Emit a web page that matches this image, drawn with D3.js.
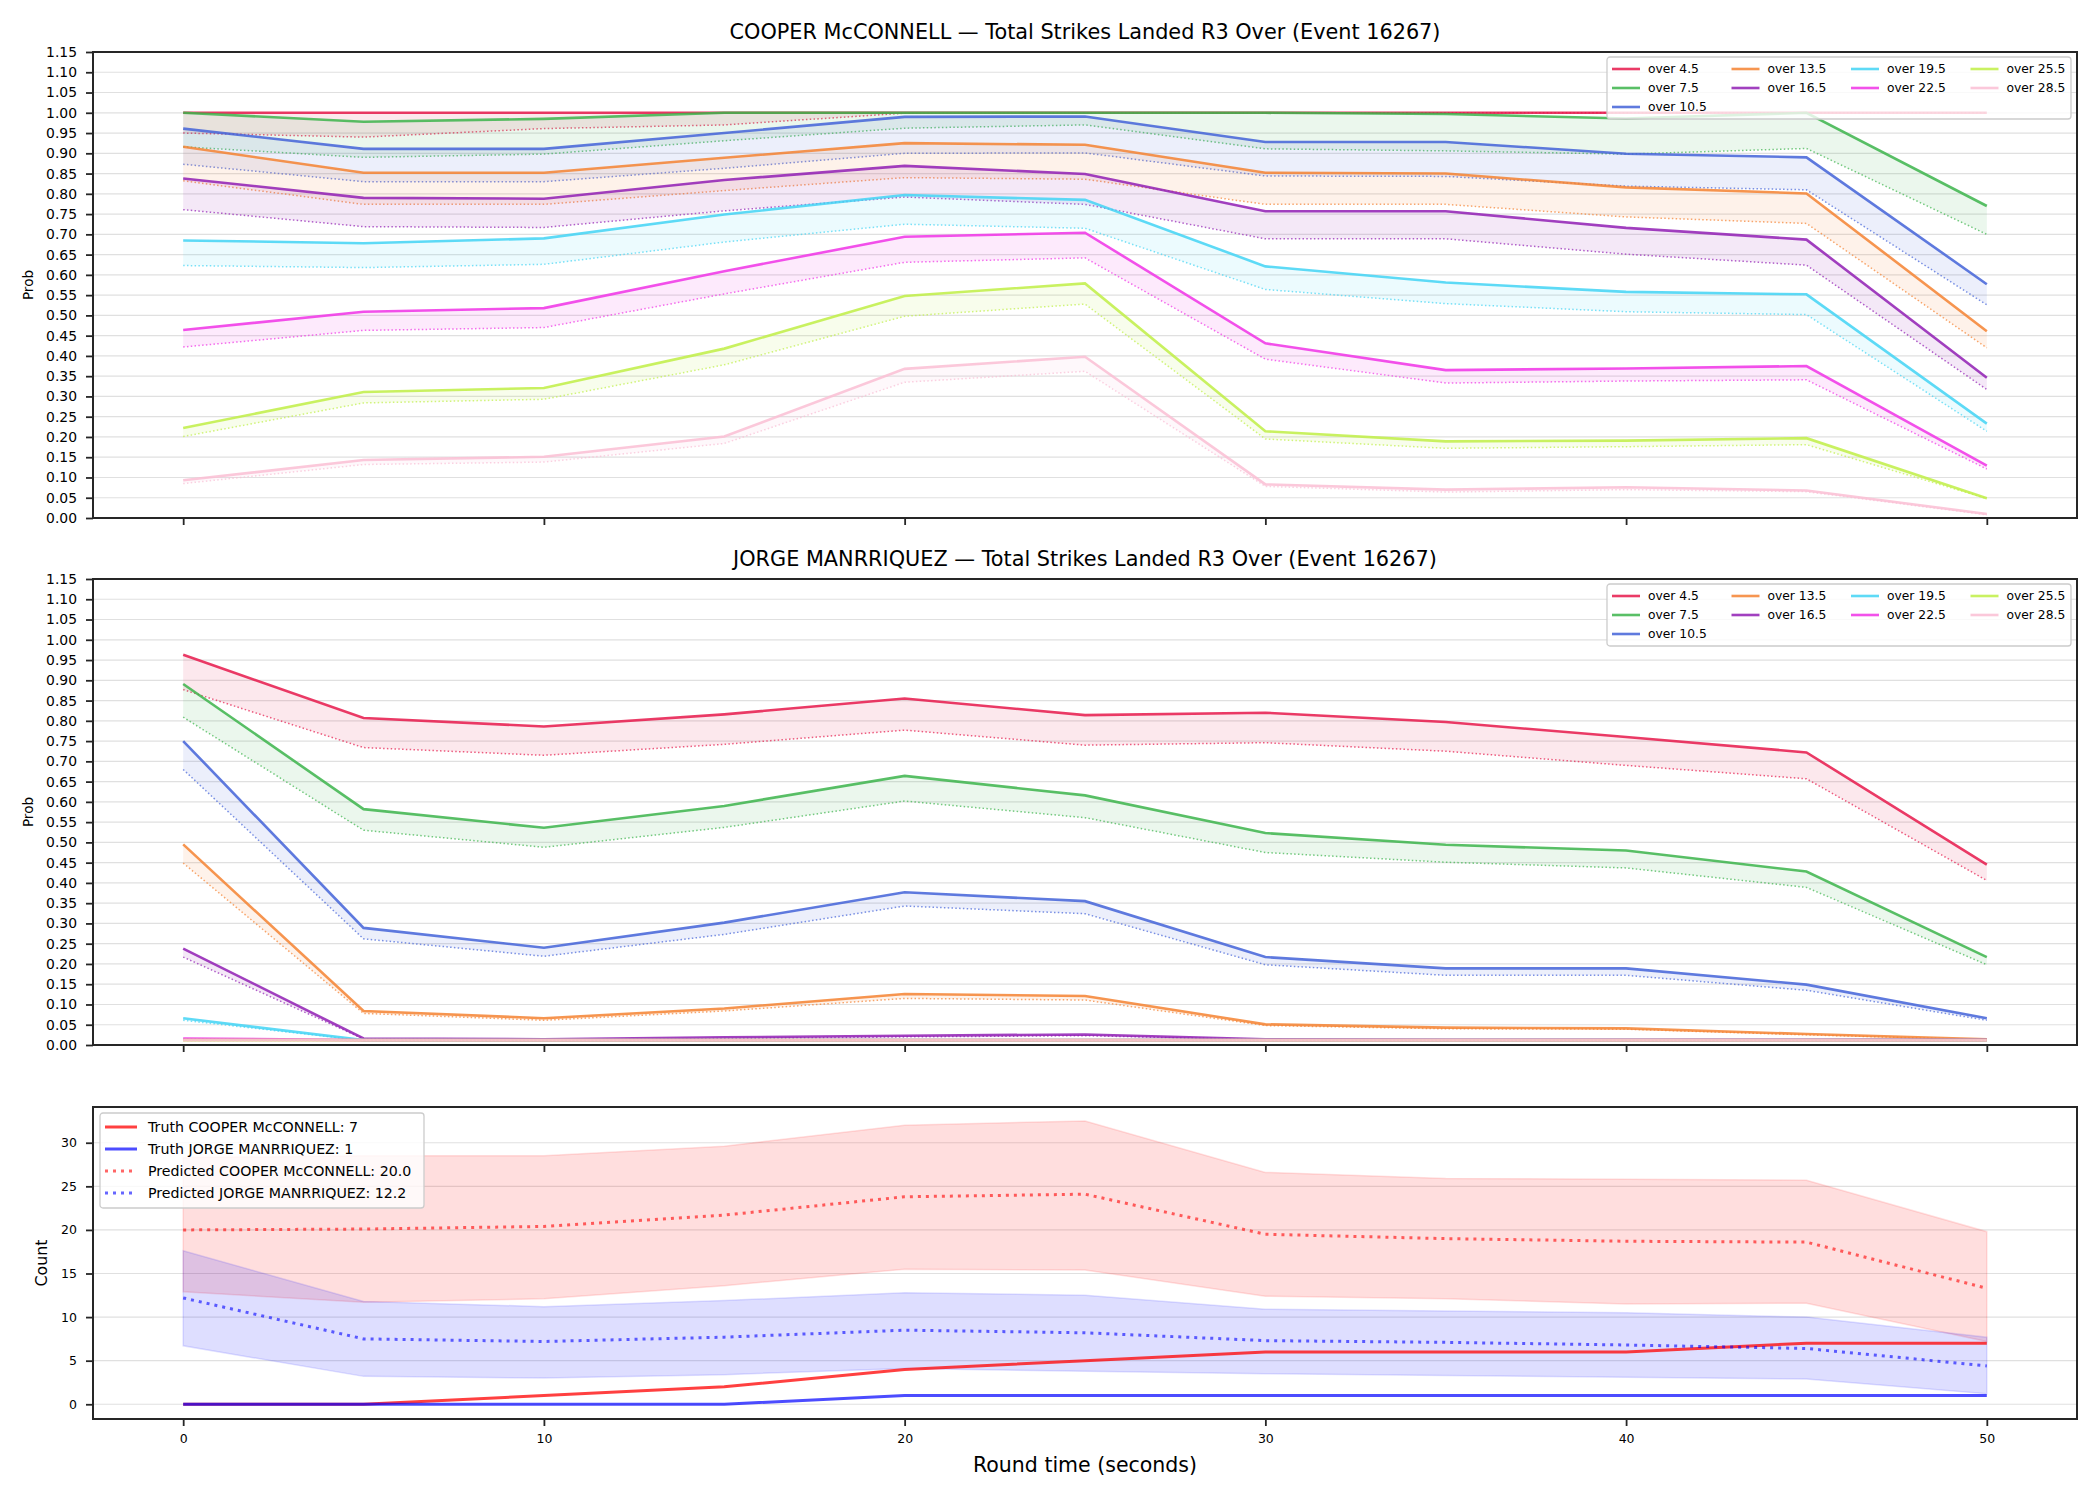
<!DOCTYPE html>
<html>
<head>
<meta charset="utf-8">
<script src="https://cdn.jsdelivr.net/npm/d3@7"></script>
<style>
	body { margin: 0; background: #fff; }
	svg text { font-family: "DejaVu Sans", sans-serif; fill: #000; }
</style>
</head>
<body>
<div id="chart"></div>
<script>

// round time (seconds)
const times = [0, 5, 10, 15, 20, 25, 30, 35, 40, 45, 50];
const lineNames = ["over 4.5", "over 7.5", "over 10.5", "over 13.5", "over 16.5",
	"over 19.5", "over 22.5", "over 25.5", "over 28.5"];

// solid line per threshold (one row per entry of lineNames)
const cooperSolid = [
	[1.000, 1.000, 1.000, 1.000, 1.000, 1.000, 1.000, 1.000, 1.000, 1.000, 1.000],
	[1.000, 0.978, 0.985, 1.000, 1.000, 1.000, 1.000, 0.997, 0.986, 1.000, 0.770],
	[0.961, 0.911, 0.911, 0.950, 0.990, 0.991, 0.928, 0.928, 0.899, 0.890, 0.577],
	[0.916, 0.852, 0.852, 0.889, 0.925, 0.921, 0.852, 0.850, 0.816, 0.801, 0.461],
	[0.838, 0.790, 0.788, 0.834, 0.869, 0.849, 0.757, 0.757, 0.716, 0.687, 0.346],
	[0.685, 0.678, 0.690, 0.749, 0.797, 0.785, 0.621, 0.581, 0.558, 0.552, 0.233],
	[0.464, 0.509, 0.518, 0.609, 0.694, 0.704, 0.431, 0.365, 0.369, 0.375, 0.129],
	[0.222, 0.311, 0.321, 0.418, 0.548, 0.579, 0.214, 0.189, 0.191, 0.197, 0.049],
	[0.093, 0.143, 0.151, 0.201, 0.368, 0.398, 0.083, 0.070, 0.076, 0.068, 0.010]
];

// dotted line per threshold
const cooperDotted = [
	[0.950, 0.940, 0.961, 0.970, 0.999, 1.000, 1.000, 1.000, 1.000, 1.000, 1.000],
	[0.916, 0.890, 0.898, 0.931, 0.962, 0.970, 0.911, 0.906, 0.898, 0.912, 0.700],
	[0.873, 0.830, 0.830, 0.863, 0.900, 0.901, 0.844, 0.843, 0.819, 0.810, 0.526],
	[0.832, 0.774, 0.774, 0.808, 0.840, 0.836, 0.774, 0.774, 0.743, 0.727, 0.420],
	[0.761, 0.719, 0.717, 0.758, 0.792, 0.774, 0.689, 0.689, 0.651, 0.624, 0.317],
	[0.623, 0.618, 0.626, 0.681, 0.725, 0.715, 0.564, 0.529, 0.509, 0.502, 0.214],
	[0.422, 0.463, 0.470, 0.553, 0.631, 0.642, 0.392, 0.333, 0.338, 0.341, 0.121],
	[0.201, 0.284, 0.293, 0.378, 0.498, 0.528, 0.195, 0.172, 0.176, 0.181, 0.048],
	[0.085, 0.132, 0.138, 0.184, 0.335, 0.362, 0.078, 0.064, 0.070, 0.065, 0.008]
];

const jorgeSolid = [
	[0.963, 0.807, 0.786, 0.816, 0.855, 0.814, 0.820, 0.797, 0.760, 0.722, 0.445],
	[0.891, 0.582, 0.536, 0.590, 0.664, 0.616, 0.523, 0.494, 0.480, 0.428, 0.217],
	[0.750, 0.289, 0.240, 0.302, 0.377, 0.355, 0.217, 0.189, 0.189, 0.149, 0.066],
	[0.495, 0.084, 0.066, 0.090, 0.126, 0.121, 0.051, 0.043, 0.041, 0.027, 0.014],
	[0.238, 0.016, 0.014, 0.019, 0.023, 0.026, 0.014, 0.013, 0.013, 0.013, 0.013],
	[0.066, 0.012, 0.012, 0.012, 0.012, 0.012, 0.012, 0.012, 0.012, 0.012, 0.012],
	[0.016, 0.012, 0.012, 0.012, 0.012, 0.012, 0.012, 0.012, 0.012, 0.012, 0.012],
	[0.012, 0.012, 0.012, 0.012, 0.012, 0.012, 0.012, 0.012, 0.012, 0.012, 0.012],
	[0.012, 0.012, 0.012, 0.012, 0.012, 0.012, 0.012, 0.012, 0.012, 0.012, 0.012]
];

const jorgeDotted = [
	[0.877, 0.734, 0.715, 0.742, 0.777, 0.740, 0.746, 0.725, 0.690, 0.657, 0.406],
	[0.809, 0.530, 0.488, 0.537, 0.602, 0.561, 0.475, 0.451, 0.437, 0.389, 0.198],
	[0.680, 0.262, 0.219, 0.273, 0.343, 0.324, 0.198, 0.172, 0.172, 0.135, 0.061],
	[0.449, 0.078, 0.061, 0.084, 0.115, 0.111, 0.048, 0.040, 0.039, 0.025, 0.013],
	[0.217, 0.015, 0.012, 0.016, 0.020, 0.023, 0.013, 0.012, 0.012, 0.012, 0.012],
	[0.061, 0.011, 0.011, 0.011, 0.011, 0.011, 0.011, 0.011, 0.011, 0.011, 0.011],
	[0.015, 0.011, 0.011, 0.011, 0.011, 0.011, 0.011, 0.011, 0.011, 0.011, 0.011],
	[0.011, 0.011, 0.011, 0.011, 0.011, 0.011, 0.011, 0.011, 0.011, 0.011, 0.011],
	[0.011, 0.011, 0.011, 0.011, 0.011, 0.011, 0.011, 0.011, 0.011, 0.011, 0.011]
];

// count panel
const truthCooper = [0, 0, 1, 2, 4, 5, 6, 6, 6, 7, 7];
const truthJorge = [0, 0, 0, 0, 1, 1, 1, 1, 1, 1, 1];
const predCooper = [20.0, 20.1, 20.4, 21.7, 23.8, 24.1, 19.5, 19.0, 18.7, 18.6, 13.3];
const predCooperHigh = [28.3, 28.5, 28.5, 29.6, 32.0, 32.5, 26.6, 25.9, 25.8, 25.7, 19.8];
const predCooperLow = [12.9, 11.7, 12.1, 13.6, 15.5, 15.4, 12.4, 12.1, 11.5, 11.6, 7.2];
const predJorge = [12.2, 7.5, 7.2, 7.7, 8.5, 8.2, 7.3, 7.1, 6.8, 6.4, 4.4];
const predJorgeHigh = [17.6, 11.8, 11.2, 11.9, 12.8, 12.5, 10.9, 10.7, 10.5, 10.0, 7.7];
const predJorgeLow = [6.7, 3.2, 3.0, 3.4, 4.1, 3.8, 3.5, 3.3, 3.1, 2.9, 1.2];
const countLegend = ["Truth COOPER McCONNELL: 7", "Truth JORGE MANRRIQUEZ: 1",
	"Predicted COOPER McCONNELL: 20.0", "Predicted JORGE MANRRIQUEZ: 12.2"];

// ticks
const probTicks = [0, 0.05, 0.10, 0.15, 0.20, 0.25, 0.30, 0.35, 0.40, 0.45, 0.50, 0.55,
	0.60, 0.65, 0.70, 0.75, 0.80, 0.85, 0.90, 0.95, 1.00, 1.05, 1.10, 1.15];
const countTicks = [0, 5, 10, 15, 20, 25, 30];
const timeTicks = [0, 10, 20, 30, 40, 50];

const lineColors = ["#e6194b", "#3cb44b", "#4363d8", "#f58231", "#911eb4",
	"#42d4f4", "#f032e6", "#bfef45", "#fabed4"];

const left = 93;
const width = 2077 - left;

let svg = d3.select("#chart")
	.append("svg")
	.attr("width", 2100)
	.attr("height", 1500);

let x = d3.scaleLinear().domain([-2.5, 52.5]).range([0, width]);

function styleAxis(sel, fontSize) {
	sel.select(".domain").remove();
	sel.selectAll(".tick line").style("stroke", "#262626").style("stroke-width", 1.8);
	sel.selectAll(".tick text")
		.style("font-family", "DejaVu Sans")
		.style("font-size", fontSize + "px")
		.style("fill", "#000");
}

function drawGrid(g, y, ticks) {
	g.selectAll("line.grid")
		.data(ticks)
		.enter().append("line")
		.attr("class", "grid")
		.attr("x1", 0)
		.attr("x2", width)
		.attr("y1", y)
		.attr("y2", y)
		.style("stroke", "#e0e0e0")
		.style("stroke-width", 1.2);
}

function drawFrame(g, height) {
	g.append("rect")
		.attr("width", width)
		.attr("height", height)
		.style("fill", "none")
		.style("stroke", "#262626")
		.style("stroke-width", 2);
}

function drawProbPanel(top, height, title, solid, dotted) {
	let g = svg.append("g").attr("transform", "translate(" + left + "," + top + ")");
	let y = d3.scaleLinear().domain([0, 1.15]).range([height, 0]);

	drawGrid(g, y, probTicks);

	let line = d3.line().x(d => x(d.t)).y(d => y(d.v));
	let area = d3.area().x(d => x(d.t)).y0(d => y(d.lo)).y1(d => y(d.hi));

	lineNames.forEach((name, k) => {
		let band = times.map((t, i) => ({t: t, hi: solid[k][i], lo: dotted[k][i]}));
		g.append("path")
			.attr("d", area(band))
			.style("fill", lineColors[k])
			.style("fill-opacity", 0.1);

		g.append("path")
			.attr("d", line(times.map((t, i) => ({t: t, v: dotted[k][i]}))))
			.style("fill", "none")
			.style("stroke", lineColors[k])
			.style("stroke-opacity", 0.7)
			.style("stroke-width", 1.5)
			.style("stroke-dasharray", "1.5,2.3");

		g.append("path")
			.attr("d", line(times.map((t, i) => ({t: t, v: solid[k][i]}))))
			.style("fill", "none")
			.style("stroke", lineColors[k])
			.style("stroke-opacity", 0.85)
			.style("stroke-width", 2.6);
	});

	g.append("g")
		.call(d3.axisLeft(y).tickValues(probTicks).tickFormat(d3.format(".2f")).tickSize(7).tickPadding(9))
		.call(s => styleAxis(s, 13.9));

	g.append("g")
		.attr("transform", "translate(0," + height + ")")
		.call(d3.axisBottom(x).tickValues(timeTicks).tickFormat("").tickSize(7))
		.call(s => styleAxis(s, 12.5));

	drawFrame(g, height);

	// legend, 4 columns filled top to bottom (3, 2, 2, 2)
	let lg = g.append("g").attr("transform", "translate(" + 1514 + "," + 5 + ")");
	lg.append("rect")
		.attr("width", 464)
		.attr("height", 62)
		.attr("rx", 3)
		.style("fill", "#fff")
		.style("fill-opacity", 0.8)
		.style("stroke", "#cccccc")
		.style("stroke-width", 1.3);

	lineNames.forEach((name, k) => {
		let col = k < 3 ? 0 : Math.floor((k - 3) / 2) + 1;
		let row = k < 3 ? k : (k - 3) % 2;
		let item = lg.append("g").attr("transform", "translate(" + (5 + col * 119.5) + "," + (12 + row * 19) + ")");
		item.append("line")
			.attr("x1", 0)
			.attr("x2", 28)
			.style("stroke", lineColors[k])
			.style("stroke-opacity", 0.85)
			.style("stroke-width", 2.6);
		item.append("text")
			.attr("x", 36)
			.attr("dy", "0.36em")
			.style("font-size", "12.3px")
			.text(name);
	});

	svg.append("text")
		.attr("x", left + width / 2)
		.attr("y", top - 13)
		.attr("text-anchor", "middle")
		.style("font-size", "20.8px")
		.text(title);

	svg.append("text")
		.attr("transform", "translate(28," + (top + height / 2) + ") rotate(-90)")
		.attr("text-anchor", "middle")
		.attr("dy", "0.36em")
		.style("font-size", "13.6px")
		.text("Prob");
}

drawProbPanel(52, 466, "COOPER McCONNELL \u2014 Total Strikes Landed R3 Over (Event 16267)", cooperSolid, cooperDotted);
drawProbPanel(579, 466, "JORGE MANRRIQUEZ \u2014 Total Strikes Landed R3 Over (Event 16267)", jorgeSolid, jorgeDotted);

// count panel
let countTop = 1107;
let countHeight = 312;
let cg = svg.append("g").attr("transform", "translate(" + left + "," + countTop + ")");
let yc = d3.scaleLinear().domain([-1.69, 34.1]).range([countHeight, 0]);

drawGrid(cg, yc, countTicks);

let countLine = d3.line().x((d, i) => x(times[i])).y(d => yc(d));
let countArea = d3.area().x(d => x(d.t)).y0(d => yc(d.lo)).y1(d => yc(d.hi));

[[predCooperLow, predCooperHigh, "red"], [predJorgeLow, predJorgeHigh, "blue"]].forEach(b => {
	cg.append("path")
		.attr("d", countArea(times.map((t, i) => ({t: t, lo: b[0][i], hi: b[1][i]}))))
		.style("fill", b[2])
		.style("fill-opacity", 0.13)
		.style("stroke", b[2])
		.style("stroke-opacity", 0.12)
		.style("stroke-width", 1.5);
});

cg.append("path")
	.attr("d", countLine(truthCooper))
	.style("fill", "none")
	.style("stroke", "red")
	.style("stroke-opacity", 0.75)
	.style("stroke-width", 3);

cg.append("path")
	.attr("d", countLine(truthJorge))
	.style("fill", "none")
	.style("stroke", "blue")
	.style("stroke-opacity", 0.7)
	.style("stroke-width", 3);

cg.append("path")
	.attr("d", countLine(predCooper))
	.style("fill", "none")
	.style("stroke", "red")
	.style("stroke-opacity", 0.6)
	.style("stroke-width", 3)
	.style("stroke-dasharray", "3,5");

cg.append("path")
	.attr("d", countLine(predJorge))
	.style("fill", "none")
	.style("stroke", "blue")
	.style("stroke-opacity", 0.6)
	.style("stroke-width", 3)
	.style("stroke-dasharray", "3,5");

cg.append("g")
	.call(d3.axisLeft(yc).tickValues(countTicks).tickSize(7).tickPadding(9))
	.call(s => styleAxis(s, 12.5));

cg.append("g")
	.attr("transform", "translate(0," + countHeight + ")")
	.call(d3.axisBottom(x).tickValues(timeTicks).tickSize(7).tickPadding(8))
	.call(s => styleAxis(s, 12.5));

drawFrame(cg, countHeight);

let clg = cg.append("g").attr("transform", "translate(" + 7 + "," + 6 + ")");
clg.append("rect")
	.attr("width", 324)
	.attr("height", 95)
	.attr("rx", 3)
	.style("fill", "#fff")
	.style("fill-opacity", 0.8)
	.style("stroke", "#cccccc")
	.style("stroke-width", 1.3);

let legendStyles = [["red", 0.75, null], ["blue", 0.7, null], ["red", 0.6, "3,5"], ["blue", 0.6, "3,5"]];
countLegend.forEach((label, k) => {
	let item = clg.append("g").attr("transform", "translate(" + 5 + "," + (14 + k * 22) + ")");
	item.append("line")
		.attr("x1", 0)
		.attr("x2", 32)
		.style("stroke", legendStyles[k][0])
		.style("stroke-opacity", legendStyles[k][1])
		.style("stroke-width", 3)
		.style("stroke-dasharray", legendStyles[k][2]);
	item.append("text")
		.attr("x", 43)
		.attr("dy", "0.36em")
		.style("font-size", "14.2px")
		.text(label);
});

svg.append("text")
	.attr("transform", "translate(41," + (countTop + countHeight / 2) + ") rotate(-90)")
	.attr("text-anchor", "middle")
	.attr("dy", "0.36em")
	.style("font-size", "15.8px")
	.text("Count");

svg.append("text")
	.attr("x", left + width / 2)
	.attr("y", 1472)
	.attr("text-anchor", "middle")
	.style("font-size", "20.5px")
	.text("Round time (seconds)");

</script>
</body>
</html>
